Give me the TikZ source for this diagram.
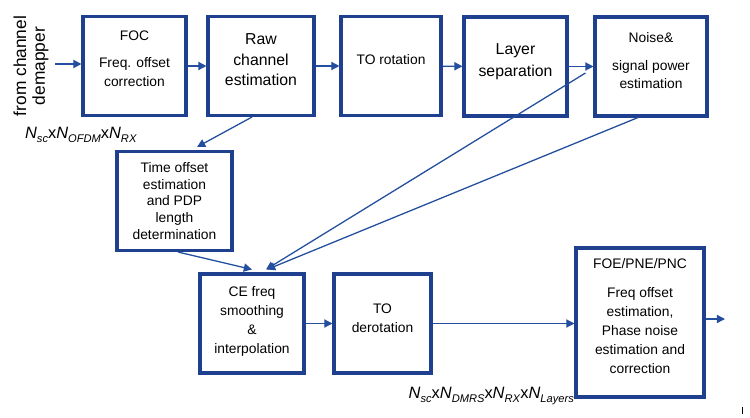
\documentclass[tikz,border=0pt]{standalone}
\usepackage{fontspec}
\setmainfont{Liberation Sans}
\usepackage{tikz}
\usetikzlibrary{calc,arrows.meta}
\definecolor{boxblue}{RGB}{31,64,143}
\definecolor{arrblue}{RGB}{36,78,158}
\newcommand{\Nsub}[1]{\textit{N}\raisebox{-0.5ex}{\fontsize{9.5}{10}\selectfont\textit{#1}}}

\begin{document}
\begin{tikzpicture}[
  x=0.03cm, y=-0.03cm,
  blk/.style={draw=boxblue, line width=2.6pt, minimum height=2.97cm, inner sep=0pt},
  txt/.style={align=center, font=\fontsize{11.8}{16.2}\selectfont},
  big/.style={align=center, font=\fontsize{13.5}{17.5}\selectfont},
  dim/.style={font=\fontsize{14}{16}\selectfont},
  arr/.style={-{Triangle[length=7pt,width=7pt]}, draw=arrblue, line width=1.1pt}
]
\useasboundingbox (0,0) rectangle (750,418);

% top row
\node[blk, minimum width=3.09cm] (foc)   at (134.5,66)   {};
\node[blk, minimum width=3.18cm] (raw)   at (261,66)     {};
\node[blk, minimum width=3.0cm]  (torot) at (391,66)     {};
\node[blk, minimum width=3.09cm] (layer) at (515.5,66.5) {};
\node[blk, minimum width=3.36cm] (noise) at (651,66.5)   {};

\node[txt] (foct)   at (134.5,59) {FOC\\[6.8pt]Freq. offset\\correction};
\node[big] (rawt)   at (261,60)   {Raw\\channel\\estimation};
\node[txt] (torott) at (391,60)   {TO rotation};
\node[big, font=\fontsize{13.5}{18.8}\selectfont] (layert) at (515.5,62) {Layer\\separation};
\node[txt, font=\fontsize{11.8}{15.4}\selectfont] (noiset) at (651,61) {Noise\&\\[8.5pt]signal power\\estimation};

% middle and bottom row
\node[blk, minimum width=3.45cm] (tdet)  at (174.5,201)   {};
\node[blk, minimum width=3.12cm] (ce)    at (252,323.5)   {};
\node[blk, minimum width=2.91cm] (toder) at (382.5,323.5) {};
\node[blk, minimum width=3.84cm, minimum height=4.47cm] (foe) at (640,322.5) {};

\node[txt, font=\fontsize{11.8}{14.2}\selectfont] (tdett) at (174.5,201) {Time offset\\estimation\\and PDP\\length\\determination};
\node[txt] (cet)    at (252,321)   {CE freq\\smoothing\\\&\\interpolation};
\node[txt] (todert) at (382.5,318.5) {TO\\derotation};
\node[txt] (foet)   at (640,316)   {FOE/PNE/PNC\\[8.6pt]Freq offset\\estimation,\\Phase noise\\estimation and\\correction};

% side labels
\node[rotate=90, align=center, font=\fontsize{14.8}{16}\selectfont] (src) at (31,66) {from channel\\demapper};
\node[dim, anchor=base west] (dimin)  at (21,138)  {\Nsub{sc}x\Nsub{OFDM}x\Nsub{RX}};
\node[dim, anchor=base east] (dimout) at (578,398) {\Nsub{sc}x\Nsub{DMRS}x\Nsub{RX}x\Nsub{Layers}};

\coordinate (in)  at (55,64);
\coordinate (out) at (725,319);

\draw[arr] (in) -- (in -| foc.west);
\draw[arr] (foc) -- (raw);
\draw[arr] (raw) -- (torot);
\draw[arr] (torot) -- (layer);
\draw[arr] (layer) -- (noise);
\draw[arr] ($(raw.south)+(-9,0)$) -- ($(tdet.north)+(22.5,-3)$);
\draw[arr] ($(tdet.south)+(3.5,0)$) -- ($(ce.north)+(0,-3)$);
\draw[arr] ($(noise.west)+(-8,6.5)$) -- ($(ce.north)+(14,-3)$);
\draw[arr] ($(noise.south)+(-13,0)$) -- ($(ce.north)+(15,-3)$);
\draw[arr] (ce) -- (toder);
\draw[arr] (toder.east) -- (toder.east -| foe.west);
\draw[arr] (out -| foe.east) -- (out);

\draw[black, line width=0.6pt] (742,407) -- (742,414);
\end{tikzpicture}
\end{document}
